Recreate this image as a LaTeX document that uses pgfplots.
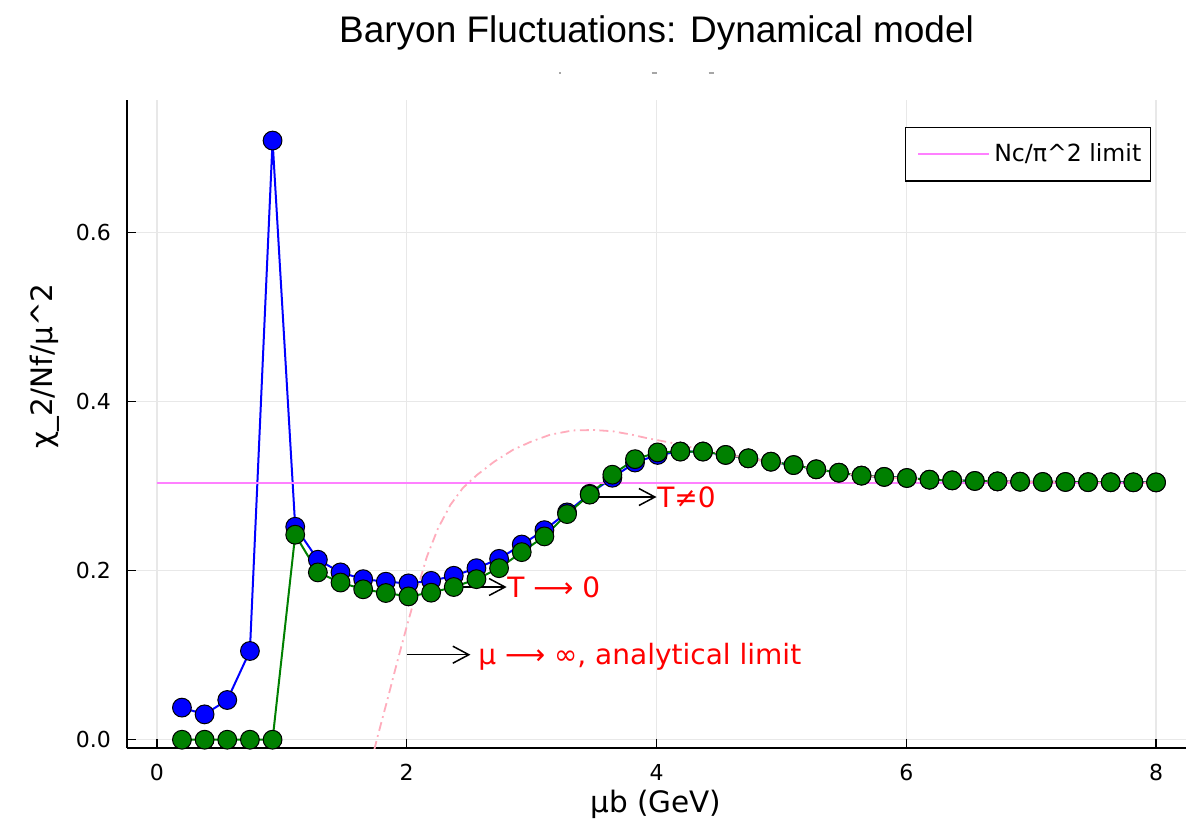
\documentclass[border=0pt]{standalone}
\usepackage{pgfplots}
\pgfplotsset{compat=1.18}
\usepackage{pgfplotstable}
\usepackage{fontspec}
\setmainfont{DejaVu Sans}
\newfontfamily\titlefont{Liberation Sans}
\usetikzlibrary{arrows.meta}

\definecolor{limitmagenta}{RGB}{255,128,255}
\definecolor{analyticpink}{RGB}{255,172,188}
\definecolor{gridgray}{RGB}{232,232,232}
\definecolor{mkgreen}{RGB}{0,128,0}
\definecolor{mkblue}{RGB}{0,0,255}

% chi_2/Nf/mu^2 from the dynamical model: finite T (first column) and T -> 0
\pgfplotstableread{
mu     tfin    tzero
0.2000 0.038   0.0
0.3814 0.030   0.0
0.5628 0.047   0.0
0.7442 0.105   0.0
0.9256 0.709   0.0
1.1070 0.252   0.2426
1.2884 0.213   0.198
1.4698 0.198   0.186
1.6512 0.190   0.178
1.8326 0.187   0.1736
2.0140 0.185   0.1696
2.1953 0.188   0.174
2.3767 0.194   0.1807
2.5581 0.203   0.190
2.7395 0.214   0.203
2.9209 0.231   0.222
3.1023 0.248   0.2406
3.2837 0.269   0.267
3.4651 0.291   0.290
3.6465 0.310   0.3136
3.8279 0.328   0.332
4.0093 0.337   0.340
4.1907 0.341   0.341
4.3721 0.341   0.341
4.5535 0.337   0.337
4.7349 0.333   0.333
4.9163 0.329   0.329
5.0977 0.325   0.325
5.2791 0.320   0.320
5.4605 0.316   0.316
5.6419 0.3125  0.3125
5.8233 0.311   0.311
6.0047 0.3097  0.3097
6.1860 0.3077  0.3077
6.3674 0.3069  0.3069
6.5488 0.3062  0.3062
6.7302 0.3057  0.3057
6.9116 0.3053  0.3053
7.0930 0.3050  0.3050
7.2744 0.3050  0.3050
7.4558 0.3048  0.3048
7.6372 0.3047  0.3047
7.8186 0.3046  0.3046
8.0000 0.3045  0.3045
}\fluct

% large-mu analytical limit
\pgfplotstableread{
mu    chi
1.740 -0.012
1.760 0.000
1.850 0.050
1.920 0.090
2.000 0.134
2.080 0.176
2.160 0.216
2.250 0.250
2.350 0.278
2.450 0.298
2.560 0.313
2.700 0.329
2.850 0.343
3.000 0.353
3.150 0.361
3.330 0.366
3.500 0.3665
3.650 0.365
3.800 0.361
3.920 0.357
4.130 0.351
4.370 0.343
4.550 0.338
4.730 0.333
4.920 0.329
5.100 0.325
5.280 0.320
5.460 0.316
5.640 0.3125
5.820 0.3105
6.000 0.309
6.500 0.3065
7.000 0.305
7.500 0.3045
8.000 0.304
}\analytic

\begin{document}
\begin{tikzpicture}
\useasboundingbox (0pt,0pt) rectangle (598.5pt,415pt);

\node[font=\titlefont\fontsize{18.5}{22}\selectfont, anchor=base, inner sep=0pt]
  at (328.25pt,393.5pt) {Baryon Fluctuations: Dynamical model};
\draw[black!35, line width=0.6pt] (279.6pt,378.5pt) -- (280.6pt,378.5pt);
\draw[black!35, line width=0.6pt] (325.8pt,378.5pt) -- (328.3pt,378.5pt);
\draw[black!35, line width=0.6pt] (354.3pt,378.5pt) -- (356.8pt,378.5pt);

\begin{axis}[
  at={(63.5pt,41pt)}, anchor=south west,
  width=529.5pt, height=324pt, scale only axis,
  xmin=-0.24, xmax=8.24, ymin=-0.0098, ymax=0.757,
  axis lines*=left,
  axis line style={black, line width=0.75pt},
  xtick={0,2,4,6,8},
  ytick={0,0.2,0.4,0.6},
  yticklabel style={/pgf/number format/fixed, /pgf/number format/fixed zerofill,
    /pgf/number format/precision=1, xshift=-4.5pt},
  /pgf/number format/assume math mode=true,
  tick align=inside,
  major tick length=4.5pt,
  tick style={black, line width=0.6pt},
  grid=major,
  major grid style={gridgray, line width=0.6pt},
  ticklabel style={font=\fontsize{11}{13}\selectfont},
  xticklabel style={yshift=-4.5pt},
  xlabel={μb (GeV)},
  ylabel={χ\_2/Nf/μ\textasciicircum 2},
  label style={font=\fontsize{14.75}{17}\selectfont},
  xlabel style={at={(axis description cs:0.4995,-0.0988)}, anchor=base},
  ylabel style={at={(axis description cs:-0.0699,0.5895)}, anchor=base},
  legend style={at={(axis description cs:0.967,0.9588)}, anchor=north east,
    draw=black, line width=0.75pt, inner xsep=2.5pt, inner ysep=6.2pt,
    font=\fontsize{11.8}{13.5}\selectfont,
    /tikz/every even column/.append style={column sep=0pt}},
  legend cell align=left,
  legend image code/.code={\path (-3.5pt,0pt);
    \draw[#1, line width=1pt] (0pt,0pt) -- (35.5pt,0pt);},
]
\addplot[mkblue, line width=1pt, mark=*, mark size=4.7pt,
  mark options={draw=black, line width=0.5pt, fill=mkblue}, forget plot]
  table[x=mu, y=tfin] {\fluct};
\addplot[mkgreen, line width=1pt, mark=*, mark size=4.7pt,
  mark options={draw=black, line width=0.5pt, fill=mkgreen}, forget plot]
  table[x=mu, y=tzero] {\fluct};
\addplot[limitmagenta, line width=1pt] coordinates {(0,0.30396) (8,0.30396)};
\addlegendentry{Nc/π\textasciicircum 2 limit}
\addplot[analyticpink, line width=0.9pt, dash pattern=on 4.5pt off 2.2pt on 0.9pt off 2.2pt, forget plot]
  table[x=mu, y=chi] {\analytic};

\draw[black, line width=0.75pt, -{Straight Barb[length=8pt, width=8.5pt]}]
  (axis cs:3.52,0.2872) -- (axis cs:4.0,0.2872);
\node[red, font=\fontsize{14}{16}\selectfont, anchor=base west, inner sep=0pt, yshift=-5.1pt]
  at (axis cs:4.003,0.2872) {T≠0};
\draw[black, line width=0.75pt, -{Straight Barb[length=8pt, width=8.5pt]}]
  (axis cs:2.45,0.1807) -- (axis cs:2.80,0.1807);
\node[red, font=\fontsize{14}{16}\selectfont, anchor=base west, inner sep=0pt, yshift=-5.1pt]
  at (axis cs:2.802,0.1807) {T ⟶ 0};
\draw[black, line width=0.75pt, -{Straight Barb[length=8pt, width=8.5pt]}]
  (axis cs:2.0,0.1006) -- (axis cs:2.51,0.1006);
\node[red, font=\fontsize{14}{16}\selectfont, anchor=base west, inner sep=0pt, yshift=-5.1pt]
  at (axis cs:2.57,0.1006) {μ ⟶ ∞, analytical limit};
\end{axis}
\end{tikzpicture}
\end{document}
